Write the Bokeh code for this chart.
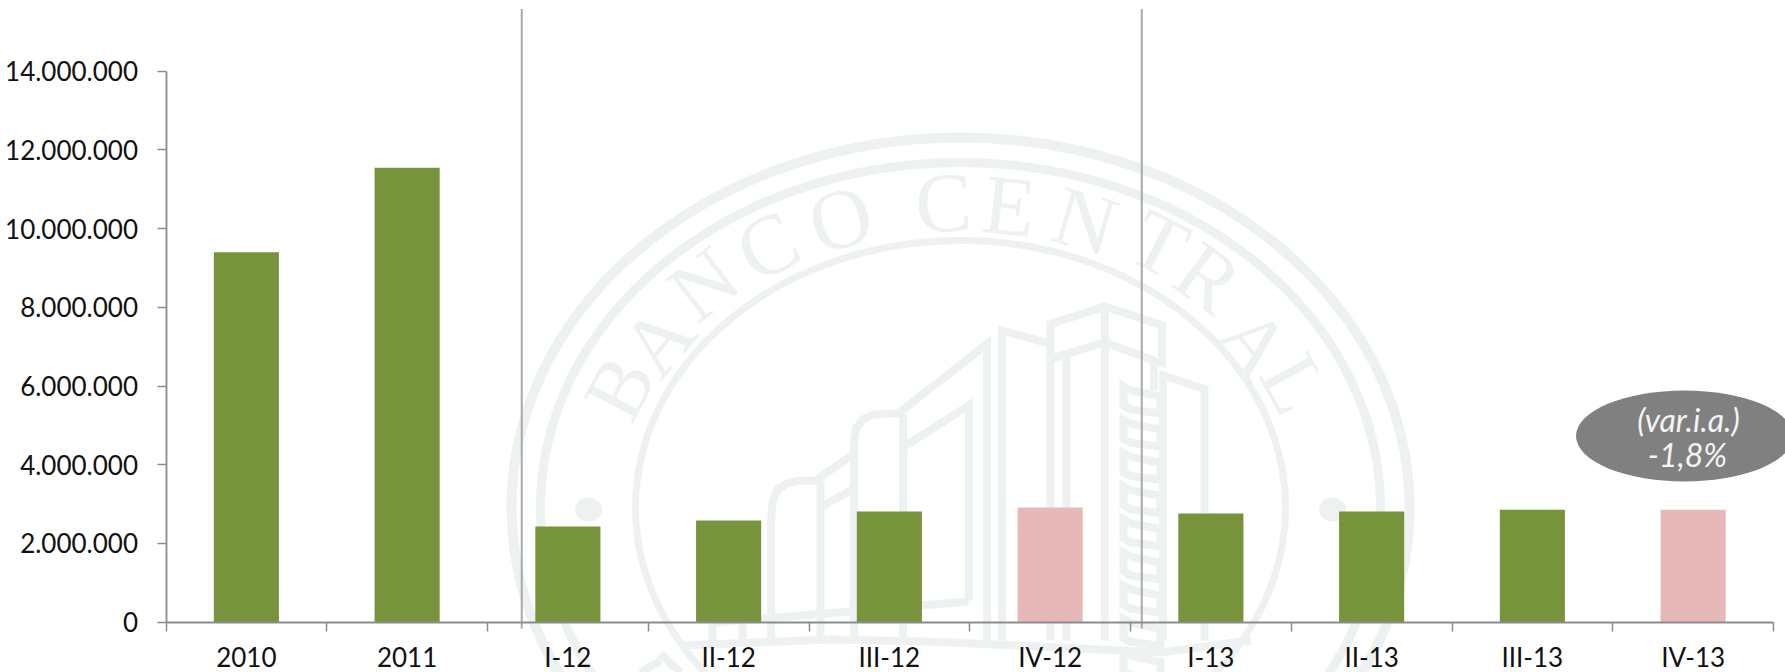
from bokeh.plotting import figure
from bokeh.embed import file_html
from bokeh.resources import INLINE
from bokeh.models import LinearAxis, FixedTicker, Range1d
from bokeh.core.properties import value
import math

categories = ["2010", "2011", "I-12", "II-12", "III-12", "IV-12", "I-13", "II-13", "III-13", "IV-13"]
values = [9400000, 11550000, 2430000, 2585000, 2810000, 2915000, 2760000, 2810000, 2860000, 2860000]
highlighted = ["IV-12", "IV-13"]
y_ticks = [0, 2000000, 4000000, 6000000, 8000000, 10000000, 12000000, 14000000]
y_labels = ["0", "2.000.000", "4.000.000", "6.000.000", "8.000.000", "10.000.000", "12.000.000", "14.000.000"]
separators = [2.213, 6.07]
note_lines = ["(var.i.a.)", "-1,8%"]

W, H = 1785, 672
OX, OY = 0, 0
X0, DX = 165.5, 160.75
Y0, YSCALE = 621.7, 551.0 / 14000000

def dx(px):
    return (px - X0) / DX

def dy(py):
    return (Y0 - py) / YSCALE

p = figure(width=W, height=H, output_backend="svg", toolbar_location=None,
           x_range=Range1d(dx(OX), dx(OX + W)), y_range=Range1d(dy(OY + H), dy(OY)),
           min_border=0, min_border_left=0, min_border_right=0, min_border_top=0, min_border_bottom=0,
           x_axis_type=None, y_axis_type=None, outline_line_color=None)
p.grid.visible = False

WM = "#edf1f1"

# watermark seal
for a, b, lw in [(449, 370, 10), (420, 345, 9), (325, 267, 7)]:
    p.ellipse(x=[dx(960)], y=[dy(507)], width=[2 * a], height=[2 * b], width_units="screen",
              height_units="screen", fill_color=None, line_color=WM, line_width=lw)
for cx in (588, 1332):
    p.ellipse(x=[dx(cx)], y=[dy(509)], width=[27], height=[24], width_units="screen",
              height_units="screen", fill_color=WM, line_color=None)

letters = [("B", 618.7, 387), ("A", 657, 340), ("N", 703, 283), ("C", 767, 245), ("O", 840, 218),
           ("C", 943, 202), ("E", 1009, 205), ("N", 1085, 220), ("T", 1159, 243), ("R", 1208, 277),
           ("A", 1254, 342), ("L", 1295, 383)]
for ch, lx, ly in letters:
    ex, ey = lx - 960, 507 - ly
    ang = math.atan2(-(305.0 ** 2) * ex, (371.0 ** 2) * ey)
    p.text(x=[dx(lx)], y=[dy(ly)], text=[ch], angle=[ang], text_font=value("Liberation Serif"),
           text_font_size="85px", text_color=WM, text_align="center", text_baseline="middle")

def zm(pts):
    return [740 + q[0] / 3 for q in pts], [290 + q[1] / 3 for q in pts]

BASE = 1050
paths = [
    [(930, BASE), (930, 100), (1093, 48), (1265, 105), (1265, 218), (1232, 210)],
    [(930, 205), (1093, 155), (1240, 210)],
    [(1093, 48), (1093, BASE)],
    [(978, 200), (978, BASE)],
    [(785, BASE), (785, 120), (930, 160)],
    [(740, BASE), (740, 160), (475, 368), (430, 370), (395, 373), (365, 388), (347, 415), (340, 450), (340, BASE)],
    [(488, 370), (488, BASE)],
    [(685, 930), (685, 345), (488, 470)],
    [(340, 490), (225, 570), (175, 571), (140, 578), (112, 597), (97, 630), (92, 680), (92, BASE)],
    [(240, 570), (240, BASE)],
    [(340, 595), (240, 650)],
    [(1240, 300), (1240, 210)],
    [(1268, BASE), (1268, 255), (1392, 295), (1392, BASE)],
]
xs, ys = [], []
for path in paths:
    a, b = zm(path)
    xs.append([dx(v) for v in a])
    ys.append([dy(v) for v in b])
# base and ground lines, lower lettering fragment
for path in [[(825, 613), (968, 601)], [(682, 645), (830, 639), (924, 641), (1040, 646), (1160, 652), (1250, 640)],
             [(712, 622), (712, 645)], [(742, 622), (742, 642)], [(712, 622), (825, 613)],
             [(660, 653), (680, 672)], [(640, 672), (660, 660)]]:
    xs.append([dx(q[0]) for q in path])
    ys.append([dy(q[1]) for q in path])
# serrated tower strip
for k in range(9):
    top = 382 + k * 33.2
    path = [(1130, top + 8), (1123, top + 4), (1123, top + 23), (1130, top + 27), (1160, top + 31), (1160, top + 14), (1130, top + 8)]
    xs.append([dx(q[0]) for q in path])
    ys.append([dy(q[1]) for q in path])
p.multi_line(xs, ys, line_color=WM, line_width=8, line_join="miter")

# data
x_centers = [i + 0.5 for i in range(len(categories))]
colors = ["#e6b8b7" if c in highlighted else "#77933c" for c in categories]
p.vbar(x=x_centers, top=values, bottom=0, width=0.405, fill_color=colors, line_color=None)

p.segment(x0=separators, x1=separators, y0=[dy(628)] * 2, y1=[dy(8.5)] * 2, line_color="#a9a9a9", line_width=2)

# note bubble
p.ellipse(x=[dx(1684)], y=[dy(435.5)], width=[217], height=[91], width_units="screen", height_units="screen",
          fill_color="#808080", line_color=None)
p.text(x=[dx(1688), dx(1687)], y=[dy(419), dy(454)], text=note_lines, text_font=value("Lato"),
       text_font_style="italic", text_font_size="32px", text_color="#f4f4f4", text_align="center", text_baseline="middle")

AXC = "#8c8c8c"
yax = LinearAxis(ticker=FixedTicker(ticks=y_ticks), fixed_location=0, bounds=(0, 14000000),
                 major_label_overrides=dict(zip(y_ticks, y_labels)), major_tick_out=9, major_tick_in=0,
                 minor_tick_out=0, minor_tick_in=0, major_tick_line_color=AXC, major_tick_line_width=1.5,
                 axis_line_color=AXC, axis_line_width=1.8, major_label_standoff=19,
                 major_label_text_font="Lato", major_label_text_font_size="26px", major_label_text_color="#111111")
p.add_layout(yax, "left")

xax = LinearAxis(ticker=FixedTicker(ticks=list(range(len(categories) + 1))), fixed_location=0, bounds=(0, len(categories)),
                 major_label_overrides={i: "" for i in range(len(categories) + 1)}, major_tick_out=9, major_tick_in=0,
                 minor_tick_out=0, minor_tick_in=0, major_tick_line_color=AXC, major_tick_line_width=1.5,
                 axis_line_color=AXC, axis_line_width=1.8)
p.add_layout(xax, "below")

lab = LinearAxis(ticker=FixedTicker(ticks=x_centers), fixed_location=0, major_label_overrides=dict(zip(x_centers, categories)),
                 major_tick_out=0, major_tick_in=0, minor_tick_out=0, minor_tick_in=0, axis_line_color=None,
                 major_tick_line_color=None, major_label_standoff=19, major_label_text_font="Lato",
                 major_label_text_font_size="26px", major_label_text_color="#111111")
p.add_layout(lab, "below")

open("out.html", "w").write(file_html(p, INLINE))
